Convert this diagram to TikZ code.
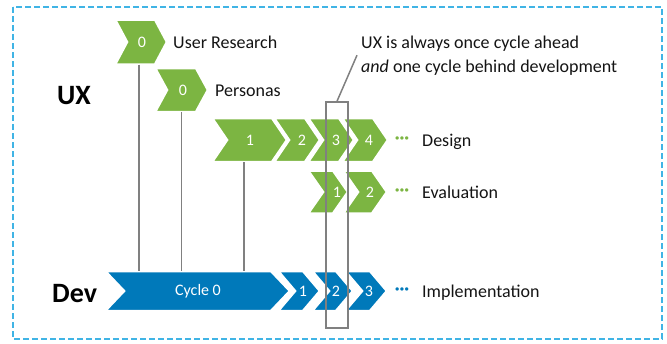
\documentclass[tikz,border=0pt]{standalone}
\usepackage{fontspec}
\setmainfont{Carlito}
\usetikzlibrary{fit}
\definecolor{uxgreen}{RGB}{124,181,66}
\definecolor{devblue}{RGB}{0,121,186}
\definecolor{frameblue}{RGB}{64,180,229}
\definecolor{linegray}{RGB}{128,128,128}
\definecolor{txt}{RGB}{20,20,20}
\tikzset{
  chevbody/.style={draw=white, line width=2.5pt, line join=miter},
  chevlbl/.style={text=white, font=\fontsize{16}{18}\selectfont, inner sep=0pt},
  side/.style={text=txt, font=\fontsize{18}{22}\selectfont, inner sep=0pt},
  big/.style={text=black, font=\fontsize{28}{32}\selectfont\bfseries, inner sep=0pt},
  dotlbl/.style={font=\fontsize{18}{22}\selectfont\bfseries, inner sep=0pt},
  vline/.style={draw=linegray, line width=1.5pt},
  frame/.style={draw=frameblue, line width=1.5pt, dash pattern=on 6pt off 3pt},
}
% #1 name #2 L #3 R #4 cy #5 half height #6 depth #7 colour #8 label x #9 label
\newcommand\chev[9]{%
  \fill[chevbody, fill=#7] (#2,#4-#5) -- (#3-#6,#4-#5) -- (#3,#4) -- (#3-#6,#4+#5)
     -- (#2,#4+#5) -- (#2+#6,#4) -- cycle;
  \path (#2,#4-#5) coordinate (#1-nw) (#3,#4+#5) coordinate (#1-se);
  \node[fit=(#1-nw)(#1-se), inner sep=0pt] (#1) {};
  \node[chevlbl] (#1-l) at (#8,#4) {#9};
}
\begin{document}
\begin{tikzpicture}[x=1pt, y=-1pt]
\useasboundingbox (0,0) rectangle (667,343);
\draw[frame] (13,7) rectangle (662,339);

% UX chevrons
\chev{ur}{115}{167}{42}{22.5}{12}{uxgreen}{142}{0}
\chev{pe}{155}{208}{90}{22}{12}{uxgreen}{183}{0}
\chev{d1}{212}{287}{140}{22}{15}{uxgreen}{250}{1}
\chev{d2}{274}{320}{140}{22}{15}{uxgreen}{302}{2}
\chev{d3}{308}{354}{140}{22}{15}{uxgreen}{336}{3}
\chev{d4}{342}{388}{140}{22}{15}{uxgreen}{369}{4}
\chev{e1}{308}{348}{192}{21.5}{15}{uxgreen}{337}{1}
\chev{e2}{343}{387}{192}{21.5}{15}{uxgreen}{370}{2}

% Dev chevrons
\chev{c0}{105}{290}{291}{20}{19}{devblue}{198}{Cycle 0}
\chev{b1}{278}{320}{291}{20}{17}{devblue}{303}{1}
\chev{b2}{312}{353}{291}{20}{17}{devblue}{336}{2}
\chev{b3}{345}{387}{291}{20}{17}{devblue}{369}{3}

% connectors
\draw[vline] ([xshift=-2pt]ur.south) -- ([xshift=-2pt]ur.south |- c0.north);
\draw[vline] (pe.south) -- (pe.south |- c0.north);
\draw[vline] ([xshift=-5.5pt]d1.south) -- ([xshift=-5.5pt]d1.south |- c0.north);

% side labels
\node[big, anchor=base west] (ux) at (57,104) {UX};
\node[big, anchor=base west] (dev) at (52,302) {Dev};
\node[side, anchor=base west] (urt) at (173,48) {User Research};
\node[side, anchor=base west] (pet) at (215,96) {Personas};
\node[side, anchor=base west] (det) at (422,146) {Design};
\node[side, anchor=base west] (evt) at (422,198) {Evaluation};
\node[side, anchor=base west] (imt) at (422,297) {Implementation};
\node[dotlbl, text=uxgreen] (ddots) at (402,140) {···};
\node[dotlbl, text=uxgreen] (edots) at (402,192) {···};
\node[dotlbl, text=devblue] (idots) at (402,291) {···};

% highlight and annotation
\node[side, anchor=base west, align=left] (ann) at (361,72)
  {UX is always once cycle ahead\\[2pt]\textit{and} one cycle behind development};
\node[draw=linegray, line width=1.5pt, minimum width=22pt, minimum height=226pt,
  inner sep=0pt] (hl) at (337,215) {};
\draw[vline] (hl.north) -- ([xshift=-4pt]ann.west);
\end{tikzpicture}
\end{document}
